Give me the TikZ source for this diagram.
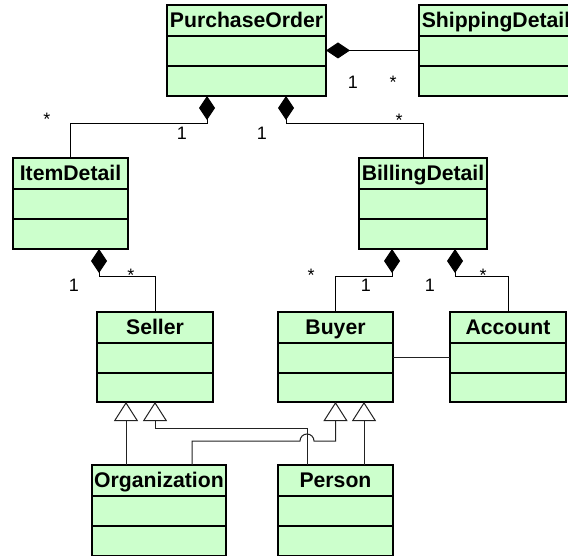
\documentclass[tikz,border=0pt]{standalone}
\usepackage{fontspec}
\setmainfont{Liberation Sans}
\usetikzlibrary{arrows.meta}

\definecolor{classfill}{HTML}{CCFFCC}
\definecolor{wire}{HTML}{222222}

\tikzset{
  classbox/.style={draw=black, line width=1.4pt, fill=classfill, inner sep=0pt, outer sep=0pt},
  classtitle/.style={inner sep=0pt, anchor=base, font=\fontsize{21.2}{25}\selectfont\bfseries},
  classline/.style={draw=black, line width=1.2pt},
  mult/.style={inner sep=0pt, anchor=base, font=\fontsize{18}{22}\selectfont},
  comp/.style={draw=black, line width=1pt, {Diamond[length=24pt,width=16pt]}-},
  inh/.style={draw=wire, line width=1pt, -{Triangle[length=19pt,width=24pt,fill=white]}},
  assoc/.style={draw=wire, line width=1pt},
}

% \umlclass{name}{x1}{y1}{x2}{y2}{title}: class box with two empty compartments
\newcommand\umlclass[6]{%
  \node[classbox, minimum width={#4-#2}, minimum height={#5-#3}] (#1) at ({(#2+#4)/2},{(#3+#5)/2}) {};
  \draw[classline] ([yshift=-31pt]#1.north west) -- ([yshift=-31pt]#1.north east);
  \draw[classline] ([yshift=-61pt]#1.north west) -- ([yshift=-61pt]#1.north east);
  \node[classtitle] (#1-title) at ([yshift=-22.5pt]#1.north) {#6};
}

\begin{document}
\begin{tikzpicture}[x=1pt,y=-1pt]
  \fill[white] (0,0) rectangle (568,556);
  \useasboundingbox (0,0) rectangle (568,556);
  \clip (0,0) rectangle (568,556);

  % classes
  \umlclass{po}{167}{5}{326}{96}{PurchaseOrder}
  \umlclass{sd}{419}{5}{573}{96}{ShippingDetail}
  \umlclass{id}{13}{158}{128}{249}{ItemDetail}
  \umlclass{bd}{359}{158}{487}{249}{BillingDetail}
  \umlclass{se}{97}{312}{213}{402}{Seller}
  \umlclass{bu}{278}{312}{393}{402}{Buyer}
  \umlclass{ac}{450}{312}{566}{402}{Account}
  \umlclass{or}{92}{465}{226}{556}{Organization}
  \umlclass{pe}{278}{465}{393}{556}{Person}

  % compositions
  \draw[comp] (po.east) -- (sd.west);
  \draw[comp] ([xshift=40pt]po.south west) |- ([yshift=34pt]id.north) -- (id.north);
  \draw[comp] ([xshift=119pt]po.south west) |- ([yshift=34pt]bd.north) -- (bd.north);
  \draw[comp] ([xshift=86pt]id.south west) |- ([yshift=35pt]se.north) -- (se.north);
  \draw[comp] ([xshift=33pt]bd.south west) |- ([yshift=35pt]bu.north) -- (bu.north);
  \draw[comp] ([xshift=96pt]bd.south west) |- ([yshift=35pt]ac.north) -- (ac.north);

  % plain association
  \draw[assoc] (bu.east) -- (ac.west);

  % generalizations
  \draw[inh] ([xshift=34pt]or.north west) -- ([xshift=29pt]se.south west);
  \draw[inh] ([xshift=29pt]pe.north west) |- ([yshift=-26pt]se.south) -- (se.south);
  \draw[inh] ([xshift=100pt]or.north west) |- ([xshift=22pt,yshift=24pt]pe.north west)
    arc[start angle=180, end angle=0, radius=7pt] -| (bu.south);
  \draw[inh] ([xshift=86pt]pe.north west) -- ([xshift=86pt]bu.south west);

  % multiplicities
  \node[mult] (m1) at (353,89) {1};
  \node[mult] (m2) at (393,89) {*};
  \node[mult] (m3) at (47,126) {*};
  \node[mult] (m4) at (182,140) {1};
  \node[mult] (m5) at (262,140) {1};
  \node[mult] (m6) at (399,127) {*};
  \node[mult] (m7) at (74,291) {1};
  \node[mult] (m8) at (131,282) {*};
  \node[mult] (m9) at (311,282) {*};
  \node[mult] (m10) at (366,291) {1};
  \node[mult] (m11) at (430,291) {1};
  \node[mult] (m12) at (483,282) {*};
\end{tikzpicture}
\end{document}
